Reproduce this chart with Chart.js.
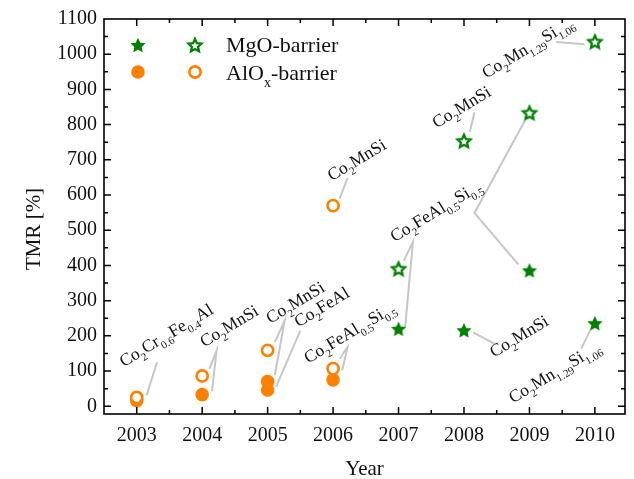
<!DOCTYPE html>
<html>
<head>
<meta charset="utf-8">
<script src="https://cdn.jsdelivr.net/npm/chart.js@4.4.1/dist/chart.umd.min.js"></script>
<style>
  html, body { margin: 0; padding: 0; background: #fff; }
  #wrap { width: 634px; height: 479px; }
</style>
</head>
<body>
<div id="wrap"><canvas id="chart" width="634" height="479"></canvas></div>
<script>
// ── Data ────────────────────────────────────────────────────────────────────
const yearTicks = [2003, 2004, 2005, 2006, 2007, 2008, 2009, 2010];
const tmrTicks = [0, 100, 200, 300, 400, 500, 600, 700, 800, 900, 1000, 1100];

const mgoYears = [2007, 2008, 2009, 2010];
const mgoOpenTmr = [391, 754, 834, 1036];
const mgoFilledTmr = [220, 216, 386, 236];

const aloxOpenYears = [2003, 2004, 2005, 2006, 2006];
const aloxOpenTmr = [25, 86, 159, 107, 570];
const aloxFilledYears = [2003, 2004, 2005, 2005, 2006];
const aloxFilledTmr = [16, 33, 70, 46, 75];

// compound labels (_{..} = subscript), anchored at baseline start, in data units
const labelTexts = [
  "Co_{2}Cr_{0.6}Fe_{0.4}Al", "Co_{2}MnSi", "Co_{2}MnSi", "Co_{2}FeAl",
  "Co_{2}FeAl_{0.5}Si_{0.5}", "Co_{2}MnSi", "Co_{2}FeAl_{0.5}Si_{0.5}",
  "Co_{2}MnSi", "Co_{2}Mn_{1.29}Si_{1.06}", "Co_{2}MnSi", "Co_{2}Mn_{1.29}Si_{1.06}"
];
const labelYears = [2002.80, 2004.03, 2005.04, 2005.47, 2005.62, 2005.98, 2006.94, 2007.58, 2008.34, 2008.46, 2008.75];
const labelTmr = [111, 167, 234, 224, 121, 639, 466, 789, 930, 138, 8];

// grey leader lines, [year, tmr] pairs
const leaderLines = [
  [[2003.15, 31], [2003.31, 125]],
  [[2004.11, 106], [2004.22, 158], [2004.15, 43]],
  [[2005.11, 182], [2005.26, 243], [2005.11, 88]],
  [[2005.13, 56], [2005.50, 215]],
  [[2006.10, 135], [2006.22, 168], [2006.14, 102]],
  [[2006.10, 590], [2006.22, 648]],
  [[2007.08, 413], [2007.22, 467], [2007.10, 223]],
  [[2008.93, 811], [2008.16, 549], [2008.83, 403]],
  [[2008.09, 780], [2008.16, 835]],
  [[2009.41, 1035], [2009.84, 1028]],
  [[2008.14, 210], [2008.47, 177]],
  [[2009.79, 163], [2009.95, 224]]
];

const GREEN = "#008000";
const ORANGE = "#ff8000";
const SERIF = "'Liberation Serif', 'Times New Roman', serif";

// ── Marker images ───────────────────────────────────────────────────────────
function starCanvas(filled) {
  const s = 20, c = document.createElement("canvas");
  c.width = c.height = s;
  const g = c.getContext("2d");
  const R = filled ? 8 : 6.8, r = R * 0.48;
  g.beginPath();
  for (let i = 0; i < 10; i++) {
    const a = -Math.PI / 2 + i * Math.PI / 5;
    const rad = i % 2 ? r : R;
    const px = s / 2 + Math.cos(a) * rad, py = s / 2 + 0.8 + Math.sin(a) * rad;
    i ? g.lineTo(px, py) : g.moveTo(px, py);
  }
  g.closePath();
  if (filled) { g.fillStyle = GREEN; g.fill(); }
  else { g.fillStyle = "#fff"; g.fill(); g.lineWidth = 2.3; g.strokeStyle = GREEN; g.stroke(); }
  return c;
}
const starFilled = starCanvas(true);
const starOpen = starCanvas(false);

// ── Rich text (subscripts) ──────────────────────────────────────────────────
function drawRich(ctx, str, x, y, size) {
  const parts = str.split(/(_\{[^}]*\})/).filter(Boolean);
  let cx = x;
  parts.forEach(p => {
    if (p.startsWith("_{")) {
      const t = p.slice(2, -1);
      ctx.font = Math.round(size * 0.64) + "px " + SERIF;
      ctx.fillText(t, cx, y + size * 0.3);
      cx += ctx.measureText(t).width;
    } else {
      ctx.font = size + "px " + SERIF;
      ctx.fillText(p, cx, y);
      cx += ctx.measureText(p).width;
    }
  });
}

// ── Plugin: leaders, labels, frame, ticks, titles, legend ───────────────────
const decor = {
  id: "decor",
  beforeDatasetsDraw(chart) {
    const { ctx, scales: { x, y } } = chart;
    ctx.save();
    ctx.strokeStyle = "#c6c6c6";
    ctx.lineWidth = 2;
    leaderLines.forEach(line => {
      ctx.beginPath();
      line.forEach(([a, b], i) => {
        const px = x.getPixelForValue(a), py = y.getPixelForValue(b);
        i ? ctx.lineTo(px, py) : ctx.moveTo(px, py);
      });
      ctx.stroke();
    });
    ctx.fillStyle = "#111";
    ctx.textBaseline = "alphabetic";
    labelTexts.forEach((t, i) => {
      ctx.save();
      ctx.translate(x.getPixelForValue(labelYears[i]), y.getPixelForValue(labelTmr[i]));
      ctx.rotate(-31 * Math.PI / 180);
      drawRich(ctx, t, 0, 0, 17.5);
      ctx.restore();
    });
    ctx.restore();
  },
  afterDraw(chart) {
    const { ctx, chartArea: a, scales: { x, y } } = chart;
    ctx.save();
    ctx.strokeStyle = "#000";
    ctx.lineWidth = 1.6;
    ctx.strokeRect(a.left, a.top, a.right - a.left, a.bottom - a.top);
    ctx.lineWidth = 1.5;
    ctx.beginPath();
    const xs = [];
    yearTicks.forEach((v, i) => { xs.push([v, 7]); xs.push([v - 0.5, 4]); if (i === yearTicks.length - 1) xs.push([v + 0.5, 4]); });
    xs.forEach(([v, len]) => {
      const px = x.getPixelForValue(v);
      if (px <= a.left + 1 || px >= a.right - 1) return;
      ctx.moveTo(px, a.bottom); ctx.lineTo(px, a.bottom - len);
      ctx.moveTo(px, a.top); ctx.lineTo(px, a.top + len);
    });
    const ys = [];
    tmrTicks.forEach(v => { ys.push([v, 7]); ys.push([v - 50, 4]); });
    ys.forEach(([v, len]) => {
      const py = y.getPixelForValue(v);
      if (py >= a.bottom - 1 || py <= a.top + 1) return;
      ctx.moveTo(a.left, py); ctx.lineTo(a.left + len, py);
      ctx.moveTo(a.right, py); ctx.lineTo(a.right - len, py);
    });
    ctx.stroke();

    // axis titles
    ctx.fillStyle = "#111";
    ctx.font = "21px " + SERIF;
    ctx.textAlign = "center";
    ctx.textBaseline = "alphabetic";
    ctx.fillText("Year", (a.left + a.right) / 2, 475);
    ctx.save();
    ctx.translate(40, 229);
    ctx.rotate(-Math.PI / 2);
    ctx.fillText("TMR [%]", 0, 0);
    ctx.restore();

    // legend
    ctx.drawImage(starFilled, 138 - 10, 45 - 10);
    ctx.drawImage(starOpen, 195 - 10, 45 - 10);
    ctx.fillStyle = ORANGE;
    ctx.beginPath(); ctx.arc(138, 72, 6.8, 0, Math.PI * 2); ctx.fill();
    ctx.beginPath(); ctx.arc(195, 72, 5.6, 0, Math.PI * 2);
    ctx.fillStyle = "#fff"; ctx.fill();
    ctx.lineWidth = 2.6; ctx.strokeStyle = ORANGE; ctx.stroke();
    ctx.fillStyle = "#111";
    ctx.textAlign = "left";
    ctx.font = "22px " + SERIF;
    ctx.fillText("MgO-barrier", 226, 52);
    drawRich(ctx, "AlO_{x}-barrier", 226, 80, 22);
    ctx.restore();
  }
};

// ── Chart ───────────────────────────────────────────────────────────────────
const tickFont = { family: SERIF, size: 20 };
new Chart(document.getElementById("chart"), {
  type: "scatter",
  data: {
    datasets: [
      { label: "MgO open", data: mgoYears.map((v, i) => ({ x: v, y: mgoOpenTmr[i] })), pointStyle: starOpen, pointRadius: 8 },
      { label: "MgO filled", data: mgoYears.map((v, i) => ({ x: v, y: mgoFilledTmr[i] })), pointStyle: starFilled, pointRadius: 8 },
      { label: "AlOx open", data: aloxOpenYears.map((v, i) => ({ x: v, y: aloxOpenTmr[i] })),
        pointStyle: "circle", pointRadius: 5.6, backgroundColor: "#fff", borderColor: ORANGE, borderWidth: 2.6 },
      { label: "AlOx filled", data: aloxFilledYears.map((v, i) => ({ x: v, y: aloxFilledTmr[i] })),
        pointStyle: "circle", pointRadius: 6.8, backgroundColor: ORANGE, borderColor: ORANGE, borderWidth: 0 }
    ]
  },
  options: {
    responsive: false,
    animation: false,
    events: [],
    layout: { padding: { top: 17, right: 7, left: 0, bottom: 0 } },
    plugins: { legend: { display: false }, tooltip: { enabled: false } },
    scales: {
      x: {
        type: "linear", min: 2002.5, max: 2010.46,
        grid: { display: false, drawTicks: false }, border: { display: false },
        afterBuildTicks: s => { s.ticks = yearTicks.map(v => ({ value: v })); },
        afterFit: s => { s.height = 65; },
        ticks: { font: tickFont, color: "#111", padding: 10, maxRotation: 0, autoSkip: false, callback: v => String(v) }
      },
      y: {
        min: -22, max: 1100,
        grid: { display: false, drawTicks: false }, border: { display: false },
        afterBuildTicks: s => { s.ticks = tmrTicks.map(v => ({ value: v })); },
        afterFit: s => { s.width = 104; },
        ticks: { font: tickFont, color: "#111", padding: 7, autoSkip: false, callback: v => String(v) }
      }
    }
  },
  plugins: [decor]
});
</script>
</body>
</html>
